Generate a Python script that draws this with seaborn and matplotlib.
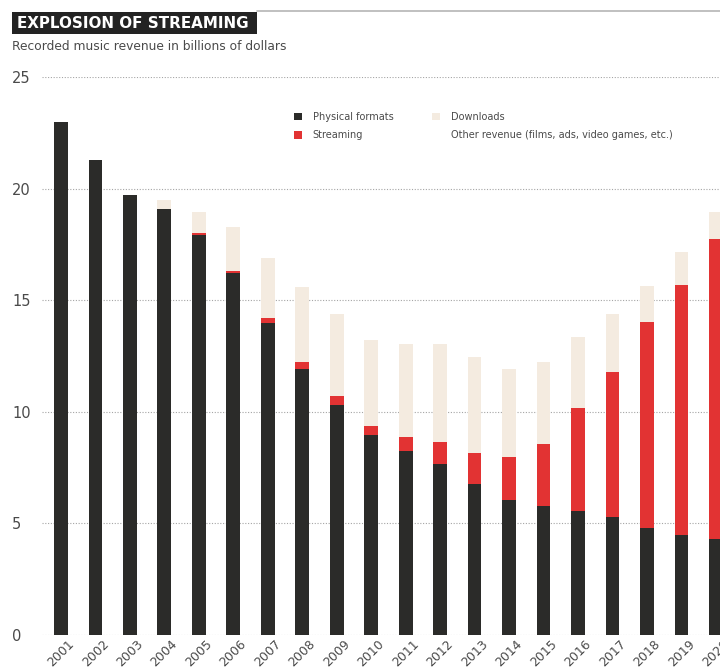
import matplotlib
matplotlib.use("Agg")
import matplotlib.pyplot as plt
from matplotlib.patches import Rectangle, Patch
import seaborn as sns
import pandas as pd
import numpy as np

years = [str(y) for y in range(2001, 2021)]
physical = [23.0, 21.3, 19.7, 19.1, 17.9, 16.2, 14.0, 11.9, 10.3, 8.95,
            8.26, 7.66, 6.77, 6.05, 5.78, 5.57, 5.29, 4.79, 4.48, 4.3]
streaming = [0, 0, 0, 0, 0.13, 0.12, 0.22, 0.31, 0.42, 0.41,
             0.6, 1.0, 1.4, 1.92, 2.79, 4.61, 6.51, 9.22, 11.22, 13.43]
downloads = [0, 0, 0, 0.39, 0.94, 1.97, 2.67, 3.37, 3.66, 3.85,
             4.18, 4.38, 4.29, 3.96, 3.66, 3.16, 2.57, 1.64, 1.46, 1.24]
yticks = [0, 5, 10, 15, 20, 25]

C_PHYS = "#2b2b29"
C_STREAM = "#e23333"
C_DOWN = "#f4ebe0"
C_TEXT = "#4a4a4a"

sns.set_theme(style="white")
plt.rcParams["font.family"] = ["DejaVu Sans"]

df = pd.DataFrame({"year": years, "physical": physical,
                   "streaming": streaming, "downloads": downloads})
df["cum_stream"] = df["physical"] + df["streaming"]
df["cum_down"] = df["cum_stream"] + df["downloads"]

W, H = 720, 668
fig = plt.figure(figsize=(W / 100, H / 100), dpi=100)
ax = fig.add_axes([42 / W, 1 - 635 / H, 1 - 42 / W, (635 - 77) / H])

for yv in yticks:
    ax.axhline(yv, color="#a5a5a5", lw=0.8, ls=(0, (1, 1.5)), zorder=0)

for col, c in [("cum_down", C_DOWN), ("cum_stream", C_STREAM), ("physical", C_PHYS)]:
    sns.barplot(data=df, x="year", y=col, order=years, color=c, width=0.4,
                saturation=1, ax=ax, zorder=2, edgecolor="none", linewidth=0)

ax.set_xlim(-0.55, 19.12)
ax.set_ylim(0, 25)
ax.set_xlabel("")
ax.set_ylabel("")
for s in ax.spines.values():
    s.set_visible(False)

ax.set_yticks(yticks)
ax.set_yticklabels([str(v) for v in yticks], ha="left", color=C_TEXT, fontsize=10.5)
ax.tick_params(axis="y", length=0, pad=30 * 72 / 100)
ax.set_xticks(range(len(years)))
ax.set_xticklabels(years, rotation=45, ha="center", color=C_TEXT, fontsize=9)
ax.tick_params(axis="x", length=0, pad=2)

handles = [Patch(facecolor=C_PHYS, edgecolor="none"),
           Patch(facecolor=C_STREAM, edgecolor="none"),
           Patch(facecolor=C_DOWN, edgecolor="none"),
           Patch(facecolor="white", edgecolor="none")]
labels = ["Physical formats", "Streaming", "Downloads",
          "Other revenue (films, ads, video games, etc.)"]
leg = fig.legend(handles, labels, ncol=2, frameon=False, fontsize=7,
                 loc="upper left", bbox_to_anchor=(285 / W, 1 - 103 / H),
                 handlelength=0.85, handleheight=0.85, handletextpad=1.1,
                 columnspacing=3.95, labelspacing=0.85)
for t in leg.get_texts():
    t.set_color(C_TEXT)

# title block
fig.add_artist(Rectangle((12 / W, 1 - 34 / H), (257 - 12) / W, 22 / H,
                         transform=fig.transFigure, facecolor="#232323",
                         edgecolor="none"))
fig.add_artist(plt.Line2D([257 / W, 1], [1 - 11 / H, 1 - 11 / H],
                          transform=fig.transFigure, color="#b5b5b5", lw=1.2))
fig.text(17 / W, 1 - 23 / H, "EXPLOSION OF STREAMING", color="white",
         fontsize=10.9, fontweight="bold", va="center", ha="left")
fig.text(12 / W, 1 - 47 / H, "Recorded music revenue in billions of dollars",
         color=C_TEXT, fontsize=8.8, va="center", ha="left")

fig.savefig("out.png", dpi=100)
